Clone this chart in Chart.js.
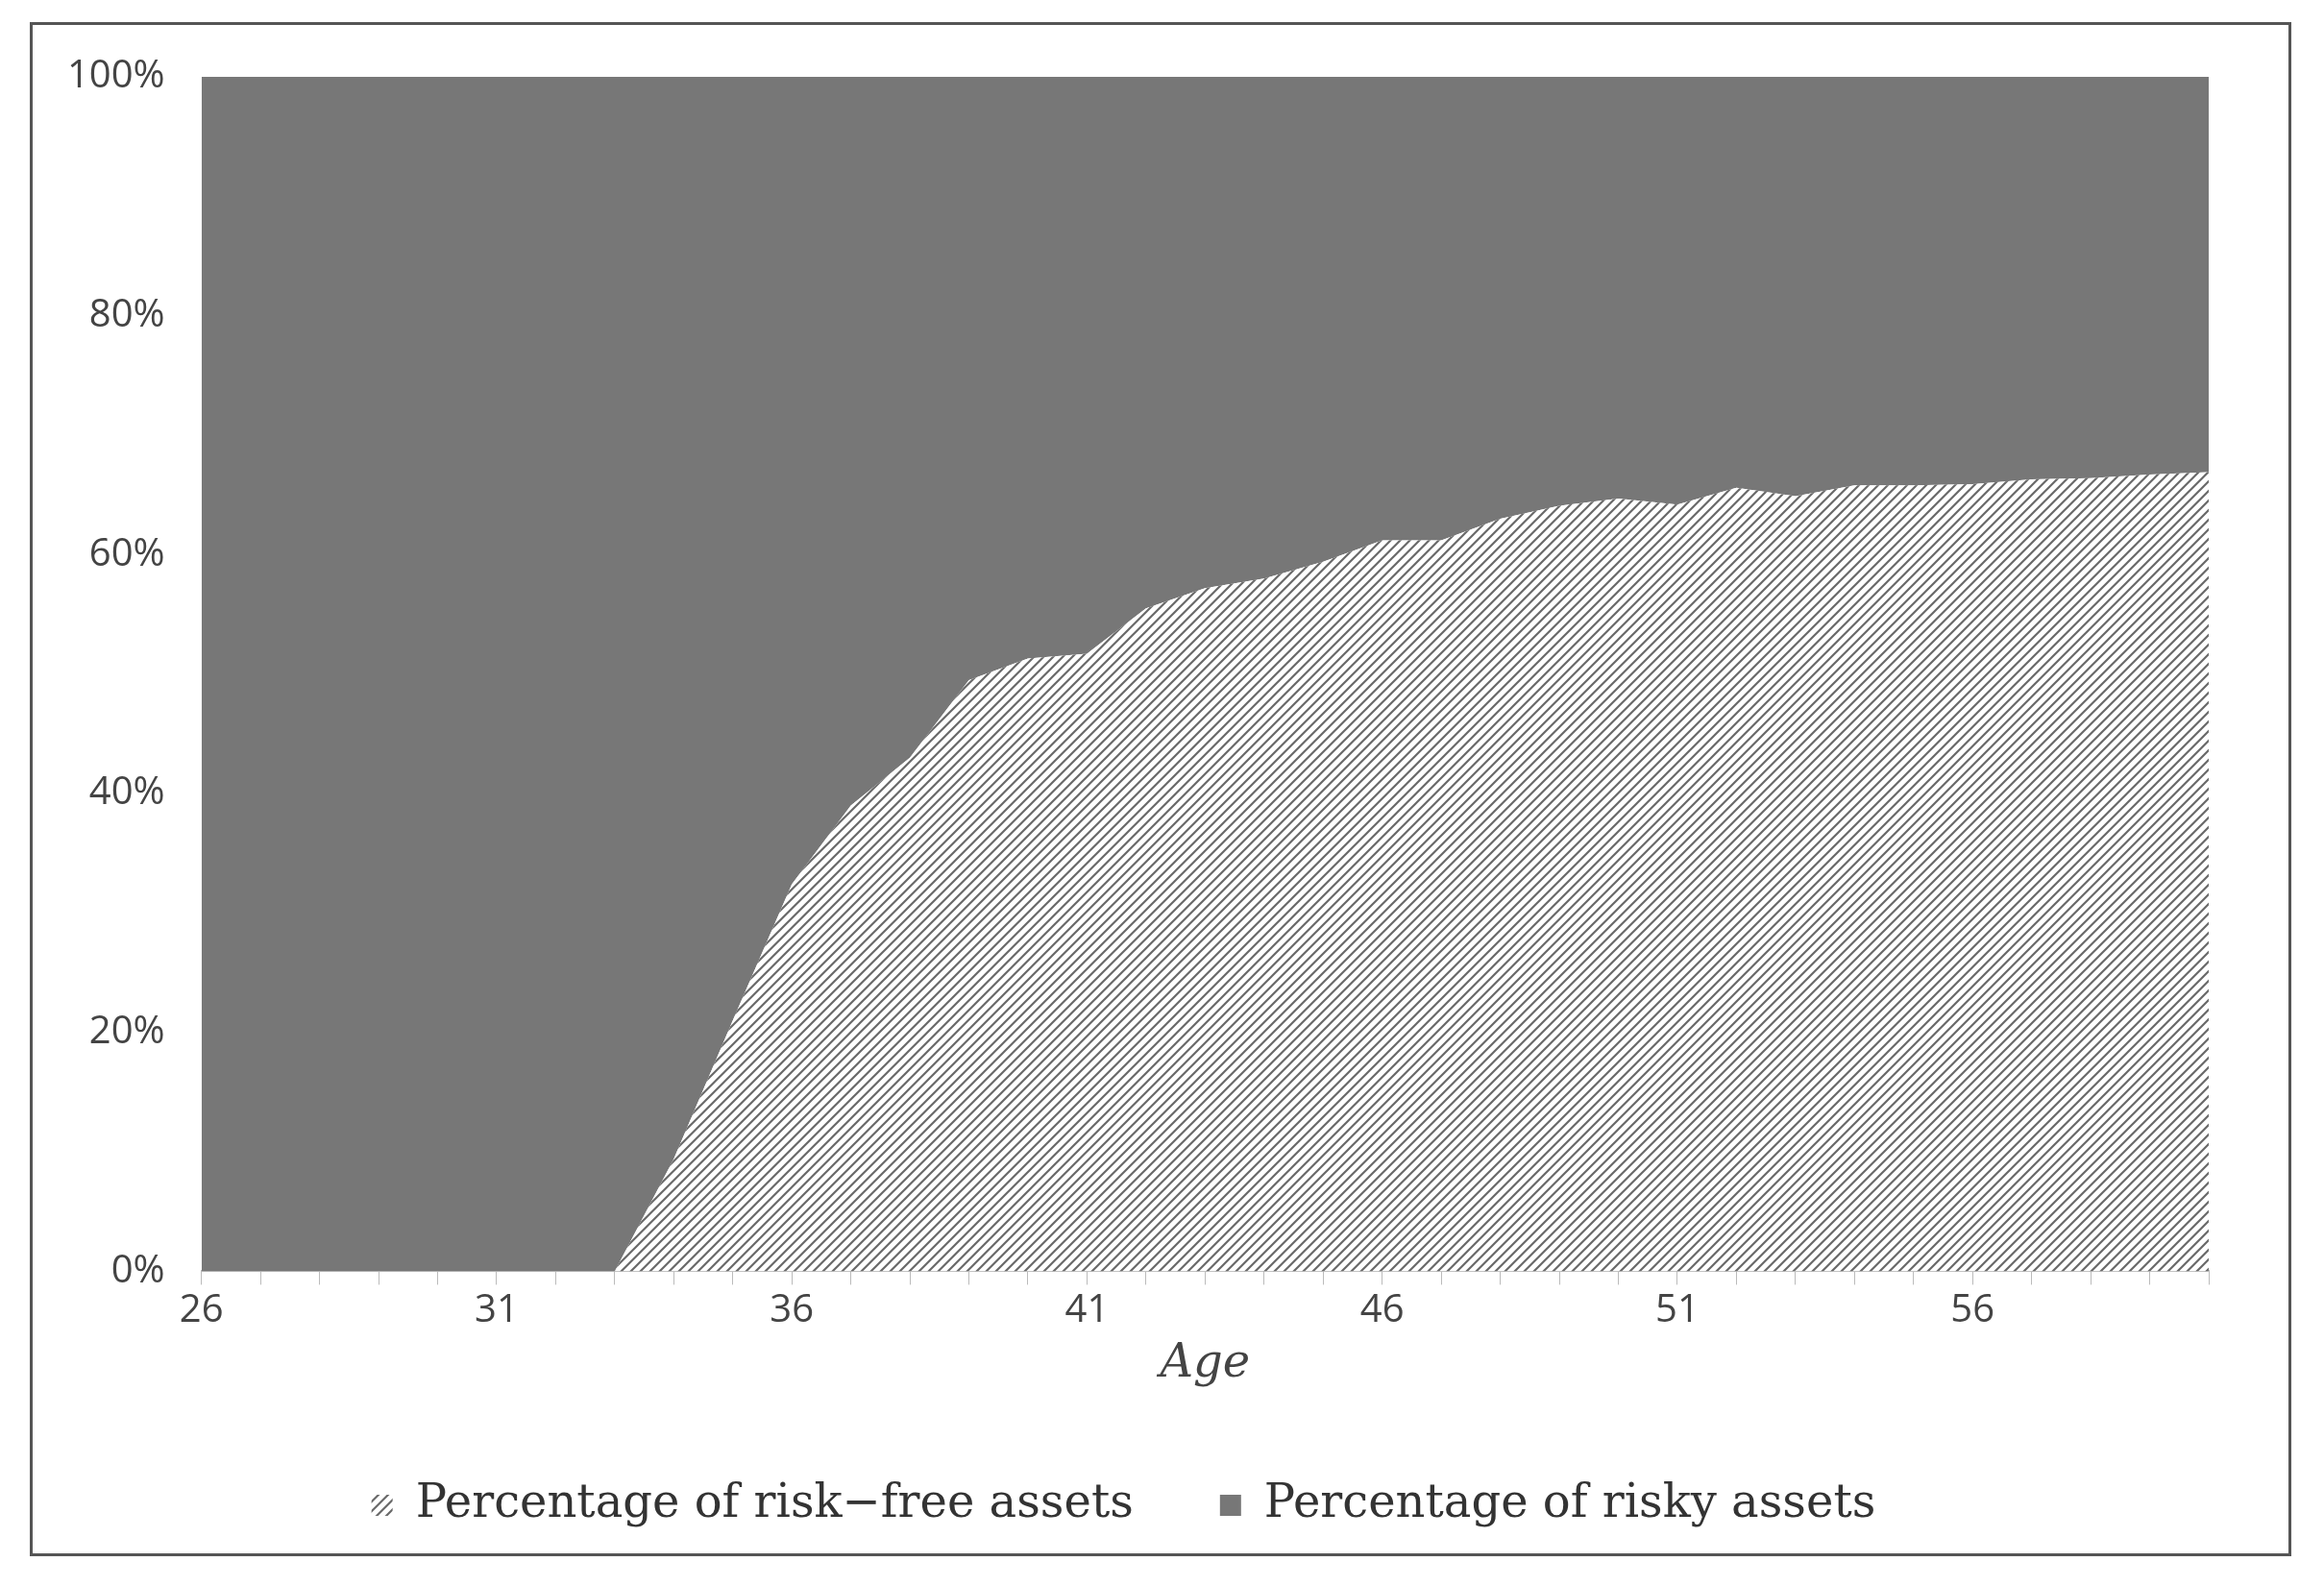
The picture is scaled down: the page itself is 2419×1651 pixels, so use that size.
<!DOCTYPE html>
<html>
<head>
<meta charset="utf-8">
<script src="https://cdn.jsdelivr.net/npm/chart.js@4/dist/chart.umd.min.js"></script>
<style>
  body { margin: 0; background: #fff; }
  #wrap { position: relative; width: 2419px; height: 1651px; }
  #frame { position: absolute; left: 31px; top: 23px; width: 2354px; height: 1597px; border: 3px solid #555; box-sizing: border-box; }
  canvas { position: absolute; left: 0; top: 0; }
</style>
</head>
<body>
<div id="wrap">
  <div id="frame"></div>
  <canvas id="assetChart" width="2419" height="1651"></canvas>
</div>
<script>
// 나이 (26 ~ 60)
var ages = [];
for (var a = 26; a <= 60; a++) ages.push(String(a));

// 무위험자산 비중 (%)
var riskFree = [0, 0, 0, 0, 0, 0, 0, 0, 9.4, 21, 32.4, 39, 43, 49.5, 51.3, 51.7, 55.5, 57.2, 58, 59.4,
                61.2, 61.2, 63, 64.1, 64.7, 64.2, 65.6, 64.9, 65.8, 65.8, 65.9, 66.3, 66.4, 66.7, 66.9];
// 위험자산 비중 (%)
var risky = [100, 100, 100, 100, 100, 100, 100, 100, 90.6, 79, 67.6, 61, 57, 50.5, 48.7, 48.3, 44.5, 42.8, 42, 40.6,
             38.8, 38.8, 37, 35.9, 35.3, 35.8, 34.4, 35.1, 34.2, 34.2, 34.1, 33.7, 33.6, 33.3, 33.1];
var seriesNames = ['Percentage of risk\u2212free assets', 'Percentage of risky assets'];

// 빗금 패턴
function hatch() {
    var c = document.createElement('canvas');
    c.width = 10; c.height = 10;
    var g = c.getContext('2d');
    g.fillStyle = '#ffffff';
    g.fillRect(0, 0, 10, 10);
    g.strokeStyle = '#6a6a6a';
    g.lineWidth = 2.2;
    g.beginPath();
    g.moveTo(-2, 12); g.lineTo(12, -2);
    g.moveTo(-2, 2); g.lineTo(2, -2);
    g.moveTo(8, 12); g.lineTo(12, 8);
    g.stroke();
    return g.createPattern(c, 'repeat');
}

Chart.defaults.devicePixelRatio = 1;
var ctx = document.getElementById('assetChart').getContext('2d');
var assetChart = new Chart(ctx, {
    type: 'line',
    data: {
        labels: ages,
        datasets: [{
            label: seriesNames[0],
            data: riskFree,
            fill: 'origin',
            backgroundColor: hatch(),
            borderWidth: 0,
            pointRadius: 0,
            stack: 's'
        }, {
            label: seriesNames[1],
            data: risky,
            fill: '-1',
            backgroundColor: '#777777',
            borderWidth: 0,
            pointRadius: 0,
            stack: 's'
        }]
    },
    options: {
        responsive: false,
        animation: false,
        layout: { padding: { left: 40, right: 120, top: 80, bottom: 50 } },
        plugins: {
            legend: {
                position: 'bottom',
                labels: {
                    font: { family: 'DejaVu Serif', size: 48 },
                    color: '#333',
                    boxWidth: 22, boxHeight: 22,
                    padding: 90
                }
            },
            tooltip: { enabled: false }
        },
        scales: {
            x: {
                offset: false,
                grid: { drawOnChartArea: false, tickLength: 14, color: '#bbb' },
                border: { color: '#bbb', width: 2 },
                ticks: {
                    autoSkip: false, maxRotation: 0,
                    font: { family: 'Open Sans', size: 40 }, color: '#444',
                    callback: function (v, i) { return (i % 5 === 0) ? ages[i] : ''; }
                },
                title: { display: true, text: 'Age', font: { family: 'DejaVu Serif', style: 'italic', size: 48 }, color: '#444', padding: { top: 0 } }
            },
            y: {
                stacked: true, min: 0, max: 100,
                grid: { display: false },
                border: { display: false },
                ticks: {
                    stepSize: 20, padding: 30,
                    font: { family: 'Open Sans', size: 40 }, color: '#444',
                    callback: function (v) { return v + '%'; }
                }
            }
        }
    }
});
</script>
</body>
</html>
